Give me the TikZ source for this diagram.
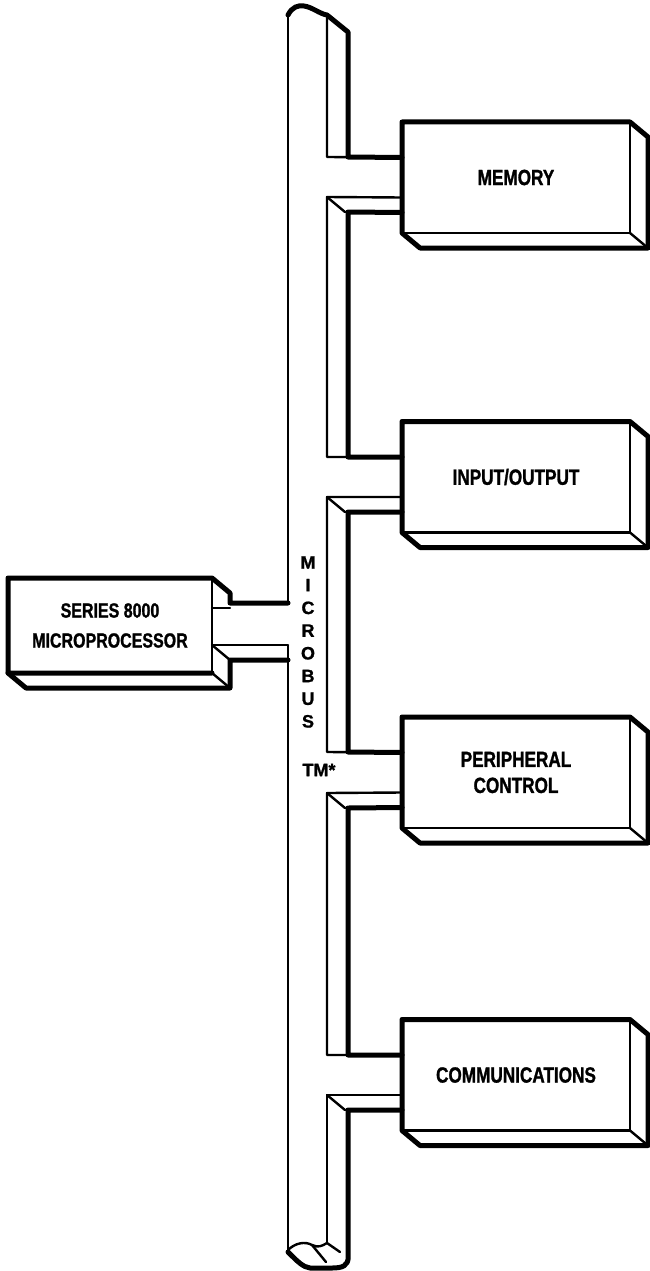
\documentclass[tikz,border=0pt]{standalone}
\usepackage{fontspec}
\setmainfont{Liberation Sans}
\newfontfamily\stretta{Liberation Sans}[FakeStretch=0.78, FakeBold=1.2]
\newfontfamily\piena{Liberation Sans}[FakeBold=1]
\usepackage{tikz}

\tikzset{
  sagoma/.style={line width=5pt, line join=round, line cap=round},
  spigolo/.style={line width=2.4pt, line join=round, line cap=round},
  fronte/.style={draw, line width=2.4pt, outer sep=0pt, inner sep=0pt, align=center,
    font=\stretta\bfseries\fontsize{22}{26}\selectfont},
}

\begin{document}
\begin{tikzpicture}[x=1pt, y=-1pt]
    \useasboundingbox (0,0) rectangle (650,1271);

    % 1. Moduli a destra (faccia frontale come nodo)
    \node[fronte, minimum width=228pt, minimum height=111pt] (memoria) at (516,177.5) {MEMORY};
    \node[fronte, minimum width=228pt, minimum height=111pt] (io) at (516,477) {INPUT/OUTPUT};
    \node[fronte, minimum width=228pt, minimum height=111pt] (periferiche) at (516,772.5) {PERIPHERAL\\CONTROL};
    \node[fronte, minimum width=228pt, minimum height=111pt] (comunicazioni) at (516,1075) {COMMUNICATIONS};

    % 2. Spessore dei moduli (lato destro e fondo)
    \draw[sagoma] (memoria.south west) -- (memoria.north west) -- (memoria.north east) -- ++(18,15) -- ++(0,111) -- ++(-228,0) -- cycle;
    \draw[spigolo] (memoria.south east) -- ++(18,15);
    \draw[sagoma] (io.south west) -- (io.north west) -- (io.north east) -- ++(18,15) -- ++(0,111) -- ++(-228,0) -- cycle;
    \draw[spigolo] (io.south east) -- ++(18,15);
    \draw[sagoma] (periferiche.south west) -- (periferiche.north west) -- (periferiche.north east) -- ++(18,15) -- ++(0,111) -- ++(-228,0) -- cycle;
    \draw[spigolo] (periferiche.south east) -- ++(18,15);
    \draw[sagoma] (comunicazioni.south west) -- (comunicazioni.north west) -- (comunicazioni.north east) -- ++(18,15) -- ++(0,111) -- ++(-228,0) -- cycle;
    \draw[spigolo] (comunicazioni.south east) -- ++(18,15);

    % 3. Microprocessore a sinistra
    \node[fronte, minimum width=204pt, minimum height=95pt, font=\stretta\bfseries\fontsize{20.5}{25}\selectfont] (micro) at (110,625.5) {SERIES 8000\\[5pt]MICROPROCESSOR};
    \draw[sagoma] (micro.south east) -- (micro.south west) -- (micro.north west) -- (micro.north east) -- ++(18,15) -- (230,603) -- (288,603);
    \draw[sagoma] (288,660) -- (230,660) -- (230,688) -- (26,688) -- (micro.south west);
    \draw[spigolo] (micro.south east) -- ++(18,15);
    \draw[spigolo] (micro.east |- 0,608) -- (230,608);
    \draw[spigolo] (micro.east |- 0,645) -- (288,645);
    \draw[spigolo] (micro.east |- 0,645) -- (230,660);

    % 4. Bus: testa, spigolo destro spesso interrotto dai rami
    \draw[sagoma] (288,15) .. controls (292,7) and (298,5) .. (304,6) .. controls (312,7) and (320,14) .. (327,15) -- (348,32) -- (348,157) -- ([yshift=20pt]memoria.west);
    \draw[sagoma] ([yshift=-35pt]memoria.west) -- (348,212) -- (348,457) -- ([yshift=20pt]io.west);
    \draw[sagoma] ([yshift=-35pt]io.west) -- (348,512) -- (348,752) -- ([yshift=20pt]periferiche.west);
    \draw[sagoma] ([yshift=-35pt]periferiche.west) -- (348,808) -- (348,1055) -- ([yshift=20pt]comunicazioni.west);
    \draw[sagoma] ([yshift=-35pt]comunicazioni.west) -- (348,1110) -- (348,1256) .. controls (349,1266) and (342,1268) .. (332,1268) -- (310,1268) .. controls (303,1267) and (298,1262) .. (288,1252);

    % 5. Bus: spigolo tra faccia frontale e laterale
    \draw[spigolo] (327,15) -- (327,157) -- ([yshift=20pt]memoria.west);
    \draw[spigolo] ([yshift=-20pt]memoria.west) -- (327,197) -- (327,457) -- ([yshift=20pt]io.west);
    \draw[spigolo] ([yshift=-20pt]io.west) -- (327,497) -- (327,752) -- ([yshift=20pt]periferiche.west);
    \draw[spigolo] ([yshift=-20pt]periferiche.west) -- (327,793) -- (327,1055) -- ([yshift=20pt]comunicazioni.west);
    \draw[spigolo] ([yshift=-20pt]comunicazioni.west) -- (327,1095) -- (327,1243);
    \draw[spigolo] (327,197) -- (345,212);
    \draw[spigolo] (327,497) -- (345,512);
    \draw[spigolo] (327,793) -- (345,808);
    \draw[spigolo] (327,1095) -- (345,1110);

    % 6. Bus: bordo sinistro (sottile) e taglio in fondo
    \draw[line width=1.5pt] (288,15) -- (288,603);
    \draw[line width=1.5pt] (288,645) -- (288,1252);
    \draw[spigolo] (288,1250) .. controls (295,1243) and (305,1241) .. (312,1245) .. controls (318,1248) and (322,1246) .. (327,1243) -- (340,1252);
    \draw[spigolo] (312,1245) -- (326,1262);

    % 7. Scritte sul bus
    \node[font=\piena\bfseries\fontsize{18}{22.7}\selectfont, align=center] (scritta) at (308,642) {M\\I\\C\\R\\O\\B\\U\\S};
    \node[font=\piena\bfseries\fontsize{18}{20}\selectfont] (marchio) at (319,770) {TM*};
\end{tikzpicture}
\end{document}
